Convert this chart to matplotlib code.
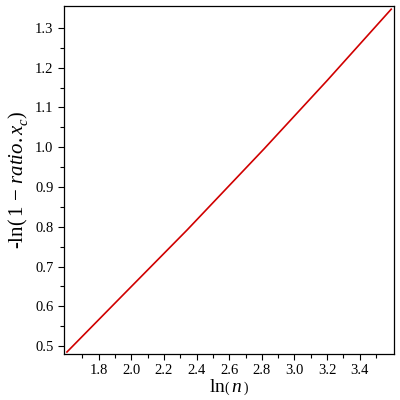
import matplotlib
matplotlib.use('Agg')
import matplotlib.pyplot as plt
from matplotlib.ticker import FixedLocator

# values
ln_n = [1.605, 1.931, 2.342, 2.814, 3.201, 3.593]
neg_ln = [0.485, 0.621, 0.792, 0.996, 1.168, 1.347]

x_major = [1.8, 2.0, 2.2, 2.4, 2.6, 2.8, 3.0, 3.2, 3.4]
x_minor = [1.7, 1.9, 2.1, 2.3, 2.5, 2.7, 2.9, 3.1, 3.3, 3.5]
y_major = [0.5, 0.6, 0.7, 0.8, 0.9, 1.0, 1.1, 1.2, 1.3]
y_minor = [0.55, 0.65, 0.75, 0.85, 0.95, 1.05, 1.15, 1.25]

plt.rcParams['font.family'] = ['Liberation Serif', 'DejaVu Serif']
plt.rcParams['mathtext.fontset'] = 'custom'
plt.rcParams['mathtext.rm'] = 'Liberation Serif'
plt.rcParams['mathtext.it'] = 'Liberation Serif:italic'

fig = plt.figure(figsize=(4, 4), dpi=100)
ax = fig.add_axes([0.16, 0.115, 0.825, 0.87])
ax.plot(ln_n, neg_ln, color='#d00000', linewidth=1.2)

ax.set_xlim(1.587, 3.61)
ax.set_ylim(0.48, 1.355)
ax.xaxis.set_major_locator(FixedLocator(x_major))
ax.xaxis.set_minor_locator(FixedLocator(x_minor))
ax.yaxis.set_major_locator(FixedLocator(y_major))
ax.yaxis.set_minor_locator(FixedLocator(y_minor))
ax.xaxis.set_major_formatter(plt.FormatStrFormatter('%.1f'))
ax.yaxis.set_major_formatter(plt.FormatStrFormatter('%.1f'))
ax.tick_params(which='major', direction='out', length=4, labelsize=10.5, width=0.8)
ax.tick_params(which='minor', direction='out', length=3, width=0.8)
for s in ax.spines.values():
    s.set_linewidth(0.9)

ax.set_xlabel(r'$\mathrm{ln}\left(\,\mathit{n}_{\,}^{\,}\right)$', fontsize=14, labelpad=0)
ax.set_ylabel(r'-$\mathrm{ln}\left(\,1\,-\,\mathit{ratio.x}_{c}^{\,}\right)$', fontsize=15, labelpad=4)

fig.savefig('out.png', dpi=100)
